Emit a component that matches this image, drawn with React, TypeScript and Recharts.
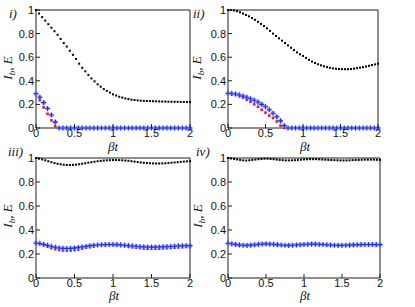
import { ScatterChart, Scatter, XAxis, YAxis, ReferenceArea } from "recharts";

// time grids: black dots are denser than the coloured markers
const T_DOT = [
  0, 0.04, 0.08, 0.12, 0.16, 0.2, 0.24, 0.28, 0.32, 0.36, 0.4, 0.44, 0.48,
  0.52, 0.56, 0.6, 0.64, 0.68, 0.72, 0.76, 0.8, 0.84, 0.88, 0.92, 0.96, 1,
  1.04, 1.08, 1.12, 1.16, 1.2, 1.24, 1.28, 1.32, 1.36, 1.4, 1.44, 1.48, 1.52,
  1.56, 1.6, 1.64, 1.68, 1.72, 1.76, 1.8, 1.84, 1.88, 1.92, 1.96, 2,
];
const T_MARK = [
  0, 0.05, 0.1, 0.15, 0.2, 0.25, 0.3, 0.35, 0.4, 0.45, 0.5, 0.55, 0.6, 0.65,
  0.7, 0.75, 0.8, 0.85, 0.9, 0.95, 1, 1.05, 1.1, 1.15, 1.2, 1.25, 1.3, 1.35,
  1.4, 1.45, 1.5, 1.55, 1.6, 1.65, 1.7, 1.75, 1.8, 1.85, 1.9, 1.95, 2,
];

const X_TICKS = [0, 0.5, 1, 1.5, 2];
const X_LABELS = ["0", "0.5", "1", "1.5", "2"];
const Y_TICKS = [0, 0.2, 0.4, 0.6, 0.8, 1];
const Y_LABELS = ["0", "0.2", "0.4", "0.6", "0.8", "1"];
const PANEL_NAMES = ["i)", "ii)", "iii)", "iv)"];

// panel i
const E_I = [
  1, 0.97, 0.94, 0.91, 0.88, 0.85, 0.82, 0.79, 0.755, 0.72, 0.69, 0.655, 0.62,
  0.585, 0.545, 0.51, 0.48, 0.45, 0.42, 0.395, 0.37, 0.35, 0.33, 0.315, 0.3,
  0.285, 0.275, 0.265, 0.258, 0.25, 0.245, 0.24, 0.237, 0.234, 0.232, 0.23,
  0.229, 0.228, 0.227, 0.226, 0.225, 0.224, 0.224, 0.223, 0.223, 0.222, 0.222,
  0.221, 0.221, 0.22, 0.22,
];
const BLUE_I = [
  0.29, 0.26, 0.215, 0.165, 0.11, 0.05, 0, 0, 0, 0, 0, 0, 0, 0, 0, 0, 0, 0, 0,
  0, 0, 0, 0, 0, 0, 0, 0, 0, 0, 0, 0, 0, 0, 0, 0, 0, 0, 0, 0, 0, 0,
];
const RED_I = [
  0.29, 0.235, 0.175, 0.12, 0.065, 0.015, 0, 0, 0, 0, 0, 0, 0, 0, 0, 0, 0, 0,
  0, 0, 0, 0, 0, 0, 0, 0, 0, 0, 0, 0, 0, 0, 0, 0, 0, 0, 0, 0, 0, 0, 0,
];

// panel ii
const E_II = [
  1, 0.999, 0.996, 0.99, 0.981, 0.97, 0.958, 0.946, 0.932, 0.917, 0.9, 0.882,
  0.864, 0.845, 0.823, 0.8, 0.78, 0.76, 0.74, 0.72, 0.7, 0.68, 0.66, 0.641,
  0.625, 0.61, 0.594, 0.578, 0.563, 0.551, 0.54, 0.531, 0.523, 0.516, 0.51,
  0.505, 0.502, 0.5, 0.499, 0.498, 0.498, 0.5, 0.503, 0.507, 0.511, 0.515,
  0.521, 0.527, 0.533, 0.539, 0.545,
];
const BLUE_II = [
  0.295, 0.293, 0.288, 0.28, 0.27, 0.26, 0.248, 0.235, 0.22, 0.2, 0.18, 0.155,
  0.125, 0.095, 0.06, 0.02, 0, 0, 0, 0, 0, 0, 0, 0, 0, 0, 0, 0, 0, 0, 0, 0, 0,
  0, 0, 0, 0, 0, 0, 0, 0,
];
const RED_II = [
  0.29, 0.287, 0.28, 0.27, 0.255, 0.24, 0.222, 0.2, 0.18, 0.155, 0.13, 0.105,
  0.085, 0.055, 0.02, 0, 0, 0, 0, 0, 0, 0, 0, 0, 0, 0, 0, 0, 0, 0, 0, 0, 0, 0,
  0, 0, 0, 0, 0, 0, 0,
];

// panel iii
const E_III = [
  1, 0.994, 0.988, 0.981, 0.973, 0.965, 0.958, 0.952, 0.948, 0.944, 0.942,
  0.942, 0.943, 0.945, 0.948, 0.952, 0.956, 0.961, 0.965, 0.969, 0.973, 0.976,
  0.979, 0.981, 0.982, 0.983, 0.983, 0.982, 0.981, 0.979, 0.977, 0.973, 0.97,
  0.966, 0.963, 0.96, 0.958, 0.956, 0.955, 0.954, 0.954, 0.955, 0.956, 0.958,
  0.961, 0.963, 0.965, 0.968, 0.97, 0.972, 0.973,
];
const BLUE_III = [
  0.292, 0.288, 0.28, 0.272, 0.263, 0.256, 0.25, 0.247, 0.246, 0.247, 0.249,
  0.253, 0.258, 0.263, 0.268, 0.272, 0.275, 0.277, 0.278, 0.279, 0.279, 0.278,
  0.276, 0.273, 0.27, 0.267, 0.264, 0.261, 0.259, 0.258, 0.257, 0.257, 0.258,
  0.259, 0.261, 0.263, 0.265, 0.267, 0.268, 0.269, 0.27,
];
const RED_III = [
  0.29, 0.283, 0.272, 0.26, 0.249, 0.24, 0.233, 0.229, 0.228, 0.229, 0.232,
  0.237, 0.244, 0.251, 0.258, 0.264, 0.269, 0.272, 0.274, 0.275, 0.275, 0.274,
  0.271, 0.267, 0.262, 0.257, 0.253, 0.249, 0.246, 0.244, 0.243, 0.243, 0.244,
  0.246, 0.248, 0.25, 0.253, 0.255, 0.257, 0.259, 0.26,
];

// panel iv
const E_IV = [
  1, 0.996, 0.992, 0.988, 0.984, 0.98, 0.979, 0.981, 0.984, 0.987, 0.99, 0.992,
  0.994, 0.994, 0.992, 0.99, 0.987, 0.984, 0.982, 0.98, 0.98, 0.981, 0.982,
  0.984, 0.986, 0.988, 0.989, 0.99, 0.99, 0.99, 0.989, 0.987, 0.986, 0.984,
  0.983, 0.982, 0.981, 0.98, 0.98, 0.98, 0.981, 0.982, 0.983, 0.984, 0.985,
  0.986, 0.986, 0.986, 0.986, 0.985, 0.985,
];
const BLUE_IV = [
  0.29, 0.285, 0.28, 0.276, 0.273, 0.272, 0.274, 0.277, 0.28, 0.283, 0.284,
  0.283, 0.281, 0.278, 0.275, 0.273, 0.272, 0.273, 0.275, 0.277, 0.279, 0.281,
  0.282, 0.282, 0.281, 0.279, 0.277, 0.275, 0.273, 0.272, 0.272, 0.273, 0.274,
  0.276, 0.277, 0.278, 0.279, 0.279, 0.279, 0.278, 0.278,
];
const RED_IV = [
  0.288, 0.282, 0.276, 0.272, 0.269, 0.268, 0.27, 0.273, 0.277, 0.28, 0.281,
  0.28, 0.278, 0.275, 0.272, 0.27, 0.269, 0.27, 0.272, 0.274, 0.276, 0.278,
  0.279, 0.279, 0.278, 0.276, 0.274, 0.272, 0.27, 0.269, 0.269, 0.27, 0.271,
  0.273, 0.274, 0.275, 0.276, 0.276, 0.276, 0.275, 0.275,
];

const FRAME = "#1e1e1e";
const TICK_FONT = "'Liberation Sans', Arial, sans-serif";
const LABEL_FONT = "'Liberation Serif', 'DejaVu Serif', serif";

const BlackDot = (p: any) => (
  <rect x={p.cx - 1} y={p.cy - 1} width={2} height={2} fill="#000" />
);
const RedDot = (p: any) => (
  <rect x={p.cx - 1.3} y={p.cy - 1.3} width={2.6} height={2.6} fill="#f01818" />
);
const BlueStar = (p: any) => (
  <g>
    <circle cx={p.cx} cy={p.cy} r={2.3} fill="#aab3ff" />
    <path
      d={`M${p.cx - 2.6},${p.cy}h5.2M${p.cx},${p.cy - 2.6}v5.2`}
      stroke="#1a2cff"
      strokeWidth={1.1}
    />
  </g>
);

// tick marks point into the plot, MATLAB style
const BottomTick = (p: any) => (
  <g>
    <line x1={p.x} x2={p.x} y1={p.y} y2={p.y - 4} stroke={FRAME} strokeWidth={1} />
    <text x={p.x} y={p.y + 9} textAnchor="middle" fontSize={11} fontFamily={TICK_FONT} fill="#111">
      {X_LABELS[X_TICKS.indexOf(p.payload.value)]}
    </text>
  </g>
);
const TopTick = (p: any) => (
  <line x1={p.x} x2={p.x} y1={p.y} y2={p.y + 4} stroke={FRAME} strokeWidth={1} />
);
const LeftTick = (p: any) => (
  <g>
    <line x1={p.x} x2={p.x + 4} y1={p.y} y2={p.y} stroke={FRAME} strokeWidth={1} />
    <text x={p.x - 2} y={p.y + 4} textAnchor="end" fontSize={11} fontFamily={TICK_FONT} fill="#111">
      {Y_LABELS[Y_TICKS.indexOf(p.payload.value)]}
    </text>
  </g>
);
const RightTick = (p: any) => (
  <line x1={p.x} x2={p.x - 4} y1={p.y} y2={p.y} stroke={FRAME} strokeWidth={1} />
);

interface PanelProps {
  left: number;
  top: number;
  width: number;
  height: number;
  e: number[];
  blue: number[];
  red: number[];
}

function Panel({ left, top, width, height, e, blue, red }: PanelProps) {
  const dots = T_DOT.map((t, i) => ({ t, v: e[i] }));
  const blues = T_MARK.map((t, i) => ({ t, v: blue[i] }));
  const reds = T_MARK.map((t, i) => ({ t, v: red[i] }));
  return (
    <div style={{ position: "absolute", left, top }}>
      <ScatterChart
        width={width}
        height={height}
        margin={{ top: 10, right: 10, bottom: 0, left: 0 }}
      >
        <XAxis
          dataKey="t"
          type="number"
          domain={[0, 2]}
          ticks={X_TICKS}
          interval={0}
          height={22}
          tickSize={0}
          tickMargin={0}
          tick={BottomTick}
          axisLine={false}
        />
        <XAxis
          xAxisId="top"
          orientation="top"
          type="number"
          domain={[0, 2]}
          ticks={X_TICKS}
          interval={0}
          height={0}
          tickSize={0}
          tickMargin={0}
          tick={TopTick}
          axisLine={false}
        />
        <YAxis
          dataKey="v"
          type="number"
          domain={[0, 1]}
          ticks={Y_TICKS}
          interval={0}
          width={36}
          tickSize={0}
          tickMargin={0}
          tick={LeftTick}
          axisLine={false}
        />
        <YAxis
          yAxisId="right"
          orientation="right"
          type="number"
          domain={[0, 1]}
          ticks={Y_TICKS}
          interval={0}
          width={0}
          tickSize={0}
          tickMargin={0}
          tick={RightTick}
          axisLine={false}
        />
        <ReferenceArea
          x1={0}
          x2={2}
          y1={0}
          y2={1}
          fill="none"
          fillOpacity={0}
          stroke={FRAME}
          strokeWidth={1}
          ifOverflow="visible"
        />
        <Scatter data={dots} shape={BlackDot} isAnimationActive={false} />
        <Scatter data={reds} shape={RedDot} isAnimationActive={false} />
        <Scatter data={blues} shape={BlueStar} isAnimationActive={false} />
      </ScatterChart>
    </div>
  );
}

const YLabel = ({ x, y }: { x: number; y: number }) => (
  <text
    transform={`translate(${x},${y}) rotate(-90)`}
    textAnchor="middle"
    fontSize={13}
    fontStyle="italic"
    fontFamily={LABEL_FONT}
    fill="#111"
  >
    I<tspan fontSize={9} dy={3}>b</tspan>
    <tspan dy={-3}>, E</tspan>
  </text>
);

const XLabel = ({ x, y }: { x: number; y: number }) => (
  <text x={x} y={y} textAnchor="middle" fontSize={13} fontStyle="italic" fontFamily={LABEL_FONT} fill="#111">
    βt
  </text>
);

const Name = ({ x, y, s }: { x: number; y: number; s: string }) => (
  <text x={x} y={y} fontSize={13} fontStyle="italic" fontFamily={LABEL_FONT} fill="#111">
    {s}
  </text>
);

export default function App() {
  return (
    <div
      style={{
        position: "fixed",
        left: 0,
        top: 0,
        width: 415,
        height: 307,
        background: "#fff",
        overflow: "hidden",
      }}
    >
      <Panel left={0} top={0} width={200} height={150} e={E_I} blue={BLUE_I} red={RED_I} />
      <Panel left={192} top={0} width={196} height={150} e={E_II} blue={BLUE_II} red={RED_II} />
      <Panel left={0} top={148} width={200} height={152} e={E_III} blue={BLUE_III} red={RED_III} />
      <Panel left={192} top={148} width={198} height={152} e={E_IV} blue={BLUE_IV} red={RED_IV} />
      <svg
        width={415}
        height={307}
        style={{ position: "absolute", left: 0, top: 0, pointerEvents: "none" }}
      >
        <Name x={9} y={18} s={PANEL_NAMES[0]} />
        <Name x={193} y={18} s={PANEL_NAMES[1]} />
        <Name x={8} y={156} s={PANEL_NAMES[2]} />
        <Name x={196} y={156} s={PANEL_NAMES[3]} />
        <YLabel x={12} y={68} />
        <YLabel x={201} y={68} />
        <YLabel x={12} y={216} />
        <YLabel x={202} y={216} />
        <XLabel x={113} y={151} />
        <XLabel x={305} y={151} />
        <XLabel x={114} y={300} />
        <XLabel x={305} y={300} />
      </svg>
    </div>
  );
}
